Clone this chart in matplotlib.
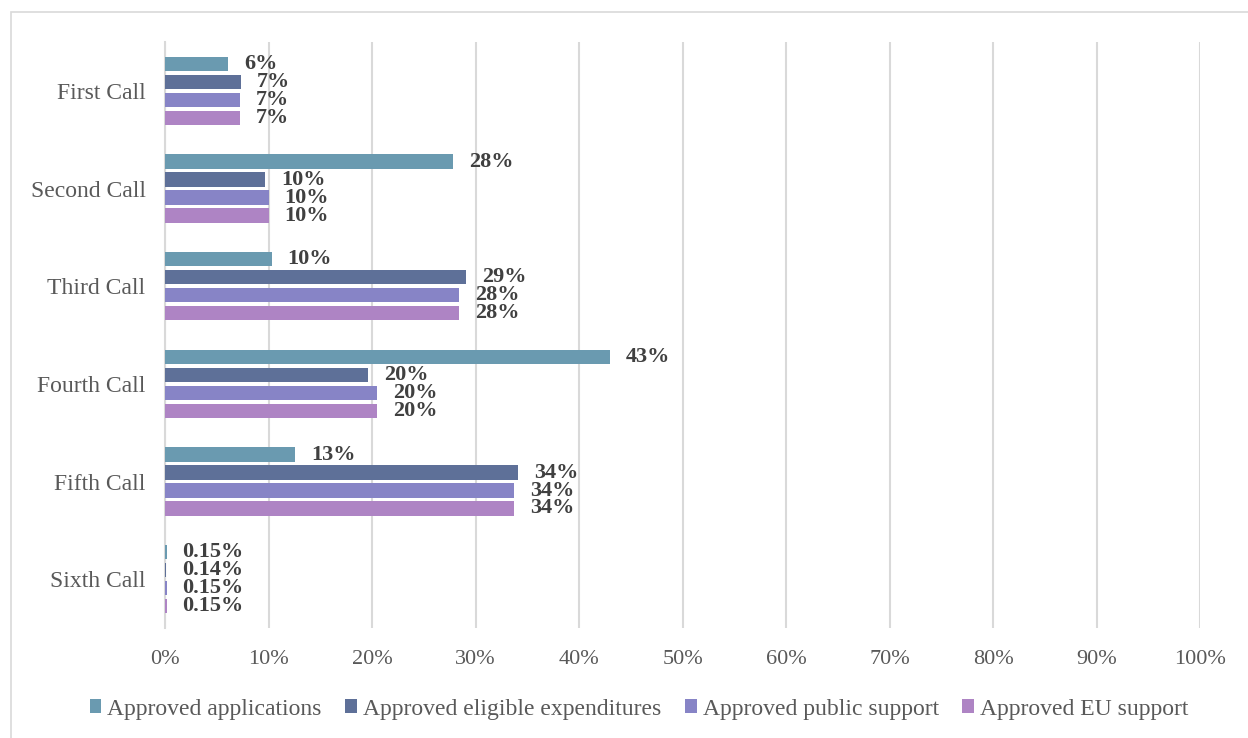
import matplotlib
matplotlib.use("Agg")
import matplotlib.pyplot as plt
import numpy as np
from matplotlib.patches import Rectangle

# data
calls = ["First Call", "Second Call", "Third Call", "Fourth Call", "Fifth Call", "Sixth Call"]
series = ["Approved applications", "Approved eligible expenditures",
          "Approved public support", "Approved EU support"]
applications = [6.1, 27.8, 10.3, 43.0, 12.6, 0.15]
eligible = [7.3, 9.7, 29.1, 19.6, 34.1, 0.14]
public = [7.2, 10.0, 28.4, 20.5, 33.7, 0.15]
eu = [7.2, 10.0, 28.4, 20.5, 33.7, 0.15]
labels = [["6%", "28%", "10%", "43%", "13%", "0.15%"],
          ["7%", "10%", "29%", "20%", "34%", "0.14%"],
          ["7%", "10%", "28%", "20%", "34%", "0.15%"],
          ["7%", "10%", "28%", "20%", "34%", "0.15%"]]
colors = ["#6A9AB0", "#5E7098", "#8784C6", "#AE84C4"]

plt.rcParams['font.family'] = ['Liberation Serif', 'DejaVu Serif']

fig = plt.figure(figsize=(12.48, 7.38), dpi=100)
ax = fig.add_axes([0.1322, 0.149, 0.8295, 0.794])

# thin frame around the chart (only top/left visible in the crop)
fig.patches.append(Rectangle((11 / 1248, -0.1), 1.2, 1 - 12 / 738 + 0.1,
                             transform=fig.transFigure, fill=False,
                             edgecolor="#D9D9D9", linewidth=1.2))

values = [applications, eligible, public, eu]
y = np.arange(len(calls))
pitch = 0.184
for i, vals in enumerate(values):
    pos = y - 1.5 * pitch + i * pitch
    ax.barh(pos, vals, height=0.148, color=colors[i], label=series[i], zorder=3)
    for p, v, t in zip(pos, vals, labels[i]):
        ax.annotate(t, (v, p), xytext=(11.5, 0), textcoords="offset points",
                    ha="left", va="center", fontsize=16, fontweight="bold",
                    color="#404040", zorder=4)

ax.set_xlim(0, 100)
ax.set_ylim(len(calls) - 0.5, -0.5)
ax.set_xticks(np.arange(0, 101, 10))
ax.set_xticklabels([f"{t}%" for t in range(0, 101, 10)])
ax.set_yticks(y)
ax.set_yticklabels(calls)
ax.tick_params(axis="both", length=0, labelcolor="#595959")
ax.tick_params(axis="x", pad=16, labelsize=16)
ax.tick_params(axis="y", pad=14, labelsize=17)
ax.xaxis.grid(True, color="#D9D9D9", linewidth=1.5, zorder=0)
for s in ["top", "right", "bottom"]:
    ax.spines[s].set_visible(False)
ax.spines["left"].set_color("#D9D9D9")
ax.spines["left"].set_linewidth(1.5)

leg = fig.legend(loc="center", bbox_to_anchor=(0.512, 1 - 709 / 738), ncol=4,
                 frameon=False, fontsize=17, handlelength=0.5, handleheight=0.5,
                 handletextpad=0.25, columnspacing=1.0)
for t in leg.get_texts():
    t.set_color("#595959")

fig.savefig("out.png", dpi=100)
